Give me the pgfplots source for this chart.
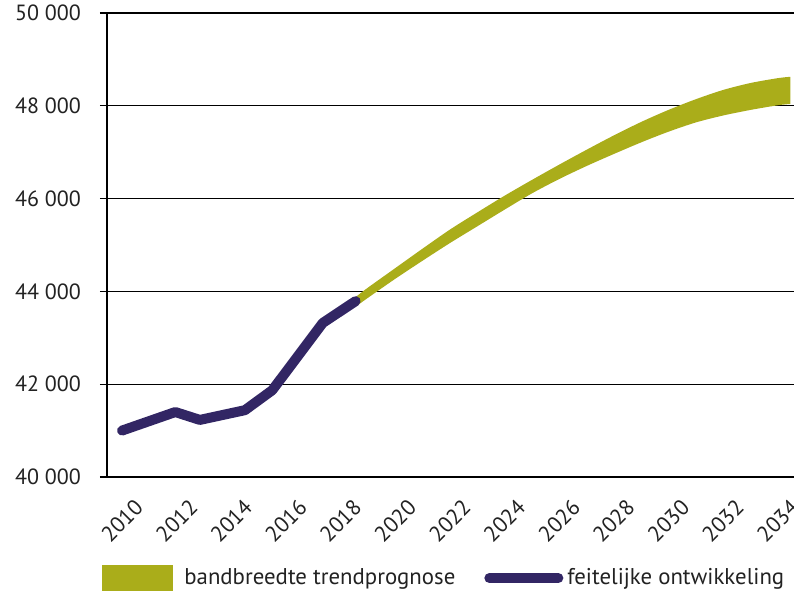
\documentclass[border=0pt]{standalone}
\usepackage{pgfplots}
\pgfplotsset{compat=1.18}
\usepgfplotslibrary{fillbetween}
\usepackage{fontspec}
\setmainfont{PT Sans}
\definecolor{bandc}{RGB}{170,173,26}
\definecolor{actual}{RGB}{50,38,100}
\definecolor{txt}{RGB}{34,34,34}
\begin{document}
\begin{tikzpicture}
\begin{axis}[
  at={(0,0)}, anchor=south west,
  scale only axis, width=343.5pt, height=232pt,
  xmin=2009.45, xmax=2034.6, ymin=40000, ymax=50000,
  axis x line=bottom, axis y line=left,
  axis line style={-, line width=1.2pt, black},
  ytick={40000,42000,...,50000},
  yticklabels={40 000,42 000,44 000,46 000,48 000,50 000},
  xtick={2010,2012,...,2034},
  xticklabels={2010,2012,2014,2016,2018,2020,2022,2024,2026,2028,2030,2032,2034},
  ymajorgrids, grid style={line width=0.6pt, black},
  major tick length=3.5pt, tick align=outside,
  y tick style={line width=0.6pt, black},
  x tick style={draw=none},
  tick label style={font=\fontsize{11}{13}\selectfont, text=txt},
  xticklabel style={yshift=-18.5pt, rotate=45, anchor=center},
  yticklabel style={anchor=east, xshift=-6pt},
  clip=false,
  legend style={at={(axis description cs:-0.0073,-0.218)}, anchor=west,
    draw=none, fill=none, inner sep=0pt, legend columns=2,
    font=\fontsize{11.4}{13}\selectfont, text=txt,
    /tikz/every even column/.append style={column sep=12.5pt}},
  legend cell align=left,
]
\addplot[name path=up, draw=none, smooth, forget plot] coordinates {
(2018.6,43900) (2019,44080) (2020,44500) (2021,44920) (2022,45330)
(2023,45700) (2024,46060) (2025,46400) (2026,46730) (2027,47050)
(2028,47360) (2029,47650) (2030,47910) (2031,48140) (2032,48340)
(2033,48490) (2034,48595) (2034.47,48625)};
\addplot[name path=lo, draw=none, smooth, forget plot] coordinates {
(2018.6,43690) (2019,43860) (2020,44270) (2021,44660) (2022,45040)
(2023,45400) (2024,45760) (2025,46110) (2026,46420) (2027,46700)
(2028,46960) (2029,47210) (2030,47440) (2031,47640) (2032,47790)
(2033,47910) (2034,48010) (2034.47,48040)};
\addplot[fill=bandc, draw=none,
  legend image code/.code={\fill[bandc] (0pt,-6.5pt) rectangle (35.5pt,6.5pt); \path (39pt,0pt);}]
  fill between[of=up and lo];
\addlegendentry{bandbreedte trendprognose}
\addplot[actual, line width=5pt, line cap=round, line join=round,
  legend image code/.code={\draw[actual, line width=5pt, line cap=round] (2.5pt,0pt) -- (37pt,0pt);}]
  coordinates {
(2010,41000) (2011.95,41400) (2012.85,41230) (2014.5,41440)
(2015.5,41870) (2017.35,43320) (2018.55,43790)};
\addlegendentry{feitelijke ontwikkeling}
\end{axis}
\pgfresetboundingbox
\path[use as bounding box] (-53.5pt,-60pt) rectangle (343.5pt,238.5pt);
\end{tikzpicture}
\end{document}
